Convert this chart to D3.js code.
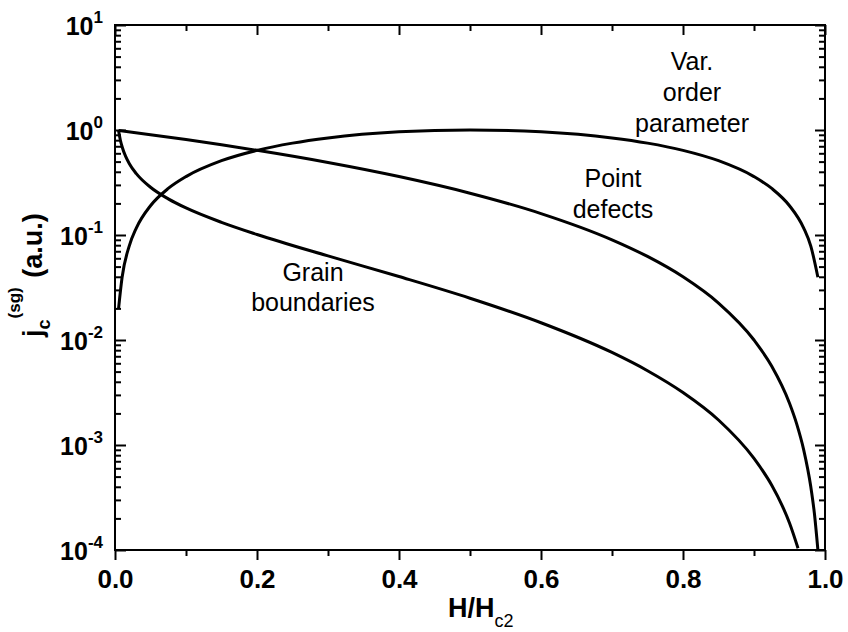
<!DOCTYPE html>
<html>
<head>
<meta charset="utf-8">
<script src="https://cdn.jsdelivr.net/npm/d3@7"></script>
<style>
  html, body { margin: 0; padding: 0; background: #fff; }
  svg { display: block; font-family: "Liberation Sans", Arial, sans-serif; }
  .lbl { font-size: 25px; fill: #000; text-anchor: middle; }
</style>
</head>
<body>
<svg id="chart" width="848" height="632"></svg>
<script>
// reduced field h = H/Hc2 and normalised critical current for three pinning types
const orderH = [0.005, 0.01, 0.02, 0.03, 0.05, 0.075, 0.1, 0.15, 0.2, 0.25, 0.3, 0.4, 0.5,
                0.6, 0.7, 0.75, 0.8, 0.85, 0.9, 0.925, 0.95, 0.97, 0.98, 0.99]
const orderJ = [0.0199, 0.0396, 0.0784, 0.1164, 0.19, 0.2775, 0.36, 0.51, 0.64, 0.75, 0.84, 0.96, 1.0,
                0.96, 0.84, 0.75, 0.64, 0.51, 0.36, 0.2775, 0.19, 0.1164, 0.0784, 0.0396]

const pointH = [0.005, 0.05, 0.1, 0.15, 0.2, 0.3, 0.4, 0.5, 0.6, 0.7, 0.75, 0.8, 0.85,
                0.9, 0.925, 0.95, 0.96, 0.97, 0.98, 0.985, 0.99]
const pointJ = [0.99, 0.9025, 0.81, 0.7225, 0.64, 0.49, 0.36, 0.25, 0.16, 0.09, 0.0625, 0.04, 0.0225,
                0.01, 0.005625, 0.0025, 0.0016, 0.0009, 0.0004, 0.000225, 0.0001]

const grainH = [0.005, 0.0075, 0.01, 0.015, 0.02, 0.03, 0.05, 0.075, 0.1, 0.15, 0.2, 0.3, 0.4, 0.5,
                0.6, 0.7, 0.75, 0.8, 0.85, 0.9, 0.925, 0.94, 0.95, 0.962]
const grainJ = [0.99, 0.804, 0.693, 0.56, 0.48, 0.384, 0.285, 0.221, 0.181, 0.132, 0.1012, 0.0632, 0.0402, 0.025,
                0.0146, 0.00761, 0.0051, 0.00316, 0.00173, 0.000745, 0.000414, 0.000262, 0.000181, 0.000104]

const xMajor = [0, 0.2, 0.4, 0.6, 0.8, 1.0]
const xMinor = [0.1, 0.3, 0.5, 0.7, 0.9]
const yDecades = [-4, -3, -2, -1, 0, 1]

const plotL = 115, plotR = 825, plotT = 25, plotB = 550

const svg = d3.select("#chart")
const x = d3.scaleLinear().domain([0, 1]).range([plotL, plotR])
const y = d3.scaleLog().domain([1e-4, 10]).range([plotB, plotT])

const yMajor = yDecades.map(e => Math.pow(10, e))
const yMinor = []
yDecades.slice(0, -1).forEach(e => {
	for (let k = 2; k <= 9; k++) yMinor.push(k * Math.pow(10, e))
})

function styleAxis(g) {
	g.select(".domain").remove()
	g.selectAll(".tick line").attr("stroke", "#000").attr("stroke-width", 2)
}

// bottom: ticks point outwards, labels below
svg.append("g")
	.attr("transform", `translate(0,${plotB})`)
	.call(d3.axisBottom(x).tickValues(xMajor).tickSize(10).tickPadding(10).tickFormat(d3.format(".1f")))
	.call(styleAxis)
	.call(g => g.selectAll("text")
		.attr("fill", "#000")
		.style("font-size", "26px")
		.style("font-weight", "bold")
		.style("font-family", "'Liberation Sans', Arial, sans-serif"))
svg.append("g")
	.attr("transform", `translate(0,${plotB})`)
	.call(d3.axisBottom(x).tickValues(xMinor).tickSize(6).tickFormat(""))
	.call(styleAxis)

// top: inward ticks, no labels
svg.append("g")
	.attr("transform", `translate(0,${plotT})`)
	.call(d3.axisTop(x).tickValues(xMajor).tickSize(-10).tickFormat(""))
	.call(styleAxis)
svg.append("g")
	.attr("transform", `translate(0,${plotT})`)
	.call(d3.axisTop(x).tickValues(xMinor).tickSize(-6).tickFormat(""))
	.call(styleAxis)

// left and right: inward ticks
svg.append("g")
	.attr("transform", `translate(${plotL},0)`)
	.call(d3.axisLeft(y).tickValues(yMajor).tickSize(-11).tickFormat(""))
	.call(styleAxis)
svg.append("g")
	.attr("transform", `translate(${plotL},0)`)
	.call(d3.axisLeft(y).tickValues(yMinor).tickSize(-6).tickFormat(""))
	.call(styleAxis)
svg.append("g")
	.attr("transform", `translate(${plotR},0)`)
	.call(d3.axisRight(y).tickValues(yMajor).tickSize(-10).tickFormat(""))
	.call(styleAxis)
svg.append("g")
	.attr("transform", `translate(${plotR},0)`)
	.call(d3.axisRight(y).tickValues(yMinor).tickSize(-6).tickFormat(""))
	.call(styleAxis)

// decade labels 10^n
const yLabels = svg.append("g")
	.selectAll("text")
	.data(yDecades)
	.join("text")
	.attr("x", plotL - 12)
	.attr("y", d => y(Math.pow(10, d)) + 10)
	.attr("text-anchor", "end")
	.style("font-weight", "bold")
yLabels.append("tspan").style("font-size", "25px").text("10")
yLabels.append("tspan").style("font-size", "17px").attr("dy", -12).text(d => d)

// frame
svg.append("rect")
	.attr("x", plotL).attr("y", plotT)
	.attr("width", plotR - plotL).attr("height", plotB - plotT)
	.attr("fill", "none").attr("stroke", "#000").attr("stroke-width", 2)

// curves
svg.append("clipPath").attr("id", "plot-clip")
	.append("rect").attr("x", plotL).attr("y", plotT).attr("width", plotR - plotL).attr("height", plotB - plotT)

const line = d3.line()
	.x(d => x(d[0]))
	.y(d => y(d[1]))
	.curve(d3.curveMonotoneX)

const series = [
	d3.zip(orderH, orderJ),
	d3.zip(pointH, pointJ),
	d3.zip(grainH, grainJ)
]

svg.append("g")
	.attr("clip-path", "url(#plot-clip)")
	.selectAll("path")
	.data(series)
	.join("path")
	.attr("d", line)
	.attr("fill", "none")
	.attr("stroke", "#000")
	.attr("stroke-width", 3)

// curve labels
const notes = [
	{ text: "Var.", x: 692, y: 70 },
	{ text: "order", x: 692, y: 101 },
	{ text: "parameter", x: 692, y: 132 },
	{ text: "Point", x: 613, y: 187 },
	{ text: "defects", x: 613, y: 218 },
	{ text: "Grain", x: 313, y: 281 },
	{ text: "boundaries", x: 313, y: 311 }
]
svg.append("g")
	.selectAll("text")
	.data(notes)
	.join("text")
	.attr("class", "lbl")
	.attr("x", d => d.x)
	.attr("y", d => d.y)
	.text(d => d.text)

// axis titles
const xTitle = svg.append("text")
	.attr("x", 448).attr("y", 617)
	.style("font-weight", "bold")
xTitle.append("tspan").style("font-size", "27px").text("H/H")
xTitle.append("tspan").style("font-size", "18px").style("font-weight", "normal").attr("dy", 10).text("c2")

const yTitle = svg.append("text")
	.attr("transform", "translate(42,337) rotate(-90)")
	.style("font-weight", "bold")
yTitle.append("tspan").style("font-size", "27px").text("j")
yTitle.append("tspan").style("font-size", "18px").attr("dy", 8).text("c")
yTitle.append("tspan").style("font-size", "17px").attr("dx", 1).attr("dy", -30).text("(sg)")
yTitle.append("tspan").style("font-size", "27px").attr("dx", 2).attr("dy", 22).text(" (a.u.)")
</script>
</body>
</html>
